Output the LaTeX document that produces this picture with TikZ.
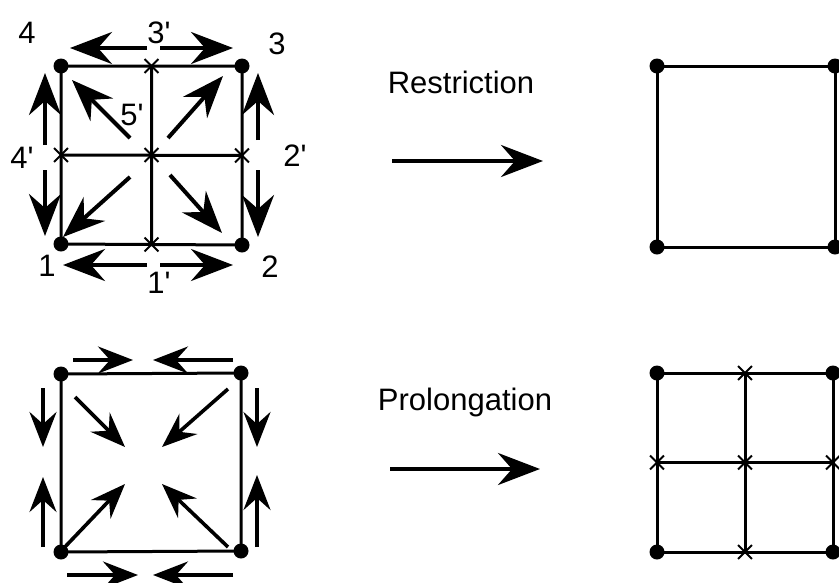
\documentclass[tikz,border=0pt]{standalone}
\usepackage{fontspec}
\setmainfont{Liberation Sans}
\usetikzlibrary{arrows.meta,calc,shapes.misc}
\newcommand\numfont{\fontsize{31}{34}\selectfont}
\newcommand\opfont{\fontsize{31}{35}\selectfont}
\newcommand\pr{\textquotesingle}
\tikzset{
  gridline/.style={line width=3pt},
  vtx/.style={circle,fill,minimum size=15pt,inner sep=0pt},
  midpt/.style={cross out,draw,minimum size=12pt,inner sep=0pt,line width=1.8pt},
  bigarrow/.style={-{Stealth[length=42pt,width=32pt,inset=14pt]},line width=4pt},
  smallarrow/.style={-{Stealth[length=35pt,width=27pt,inset=12pt]},line width=3.6pt},
  numlabel/.style={font=\numfont,anchor=base,inner sep=0pt},
  oplabel/.style={font=\opfont,anchor=base,inner sep=0pt}
}
\begin{document}
\begin{tikzpicture}[x=1pt,y=-1pt]
  \useasboundingbox (0,0) rectangle (839,582);
  \clip (0,0) rectangle (839,582);

  % fine grid, top left
  \node[vtx] (a1) at (61,244) {};
  \node[vtx] (a2) at (242,245) {};
  \node[vtx] (a3) at (242,66) {};
  \node[vtx] (a4) at (61,66) {};
  \node[midpt] (am1) at ($(a1)!0.5!(a2)$) {};
  \node[midpt] (am2) at ($(a2)!0.5!(a3)$) {};
  \node[midpt] (am3) at ($(a3)!0.5!(a4)$) {};
  \node[midpt] (am4) at ($(a4)!0.5!(a1)$) {};
  \node[midpt] (am5) at ($(a1)!0.5!(a3)$) {};
  \draw[gridline] (a1.center) -- (a2.center) -- (a3.center) -- (a4.center) -- cycle;
  \draw[gridline] (am1.center) -- (am3.center) (am4.center) -- (am2.center);

  \node[numlabel] (l4) at (27,43) {4};
  \node[numlabel] (l3p) at (159,43) {3\pr};
  \node[numlabel] (l3) at (277,54) {3};
  \node[numlabel] (l4p) at (22,168) {4\pr};
  \node[numlabel] (l2p) at (295,166) {2\pr};
  \node[numlabel] (l5p) at (132,125) {5\pr};
  \node[numlabel] (l1) at (47,276) {1};
  \node[numlabel] (l2) at (270,277) {2};
  \node[numlabel] (l1p) at (159,293) {1\pr};

  \foreach \sx/\sy/\ex/\ey [count=\i] in {147/48/70/48, 160/48/233/48,
      45/145/45/73, 45/170/45/236, 258/140/258/73, 258/170/258/237,
      147/265/63/265, 160/265/233/265, 130/138/72/80, 168/138/223/76,
      130/177/63/237, 170/175/222/233} {
    \coordinate (rs\i) at (\sx,\sy);
    \coordinate (re\i) at (\ex,\ey);
    \draw[bigarrow] (rs\i) -- (re\i);
  }

  % coarse square, bottom left
  \node[vtx] (b1) at (61,552) {};
  \node[vtx] (b2) at (241,551) {};
  \node[vtx] (b3) at (241,373) {};
  \node[vtx] (b4) at (61,374) {};
  \draw[gridline] (b1.center) -- (b2.center) -- (b3.center) -- (b4.center) -- cycle;

  \foreach \sx/\sy/\ex/\ey [count=\i] in {73/360/133/360, 233/360/153/360,
      43/388/43/447, 43/547/43/477, 257/388/257/447, 257/547/257/475,
      67/575/138/575, 233/575/153/575, 75/397/125/447, 228/389/162/447,
      62/550/125/484, 228/547/162/484} {
    \coordinate (ps\i) at (\sx,\sy);
    \coordinate (pe\i) at (\ex,\ey);
    \draw[smallarrow] (ps\i) -- (pe\i);
  }

  % operators
  \node[oplabel] (restr) at (461,93) {Restriction};
  \coordinate (rfrom) at (392,161);
  \coordinate (rto) at (543,161);
  \draw[bigarrow] (rfrom) -- (rto);
  \node[oplabel] (prol) at (465,410) {Prolongation};
  \coordinate (pfrom) at (390,469);
  \coordinate (pto) at (540,469);
  \draw[bigarrow] (pfrom) -- (pto);

  % coarse square, top right
  \node[vtx] (c1) at (657,247) {};
  \node[vtx] (c2) at (835,247) {};
  \node[vtx] (c3) at (835,66) {};
  \node[vtx] (c4) at (657,66) {};
  \draw[gridline] (c1.center) -- (c2.center) -- (c3.center) -- (c4.center) -- cycle;

  % fine grid, bottom right
  \node[vtx] (d1) at (657,552) {};
  \node[vtx] (d2) at (833,552) {};
  \node[vtx] (d3) at (833,373) {};
  \node[vtx] (d4) at (657,373) {};
  \node[midpt] (dm1) at ($(d1)!0.5!(d2)$) {};
  \node[midpt] (dm2) at ($(d2)!0.5!(d3)$) {};
  \node[midpt] (dm3) at ($(d3)!0.5!(d4)$) {};
  \node[midpt] (dm4) at ($(d4)!0.5!(d1)$) {};
  \node[midpt] (dm5) at ($(d1)!0.5!(d3)$) {};
  \draw[gridline] (d1.center) -- (d2.center) -- (d3.center) -- (d4.center) -- cycle;
  \draw[gridline] (dm1.center) -- (dm3.center) (dm4.center) -- (dm2.center);
\end{tikzpicture}
\end{document}
